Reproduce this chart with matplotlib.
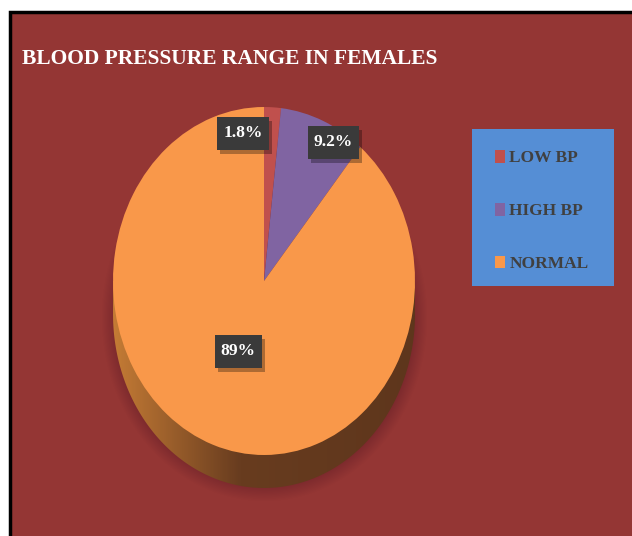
import numpy as np
import matplotlib
matplotlib.use('Agg')
import matplotlib.pyplot as plt
from matplotlib.patches import Rectangle, Polygon
from matplotlib.colors import LinearSegmentedColormap

# blood pressure groups, female respondents (%)
categories = ['LOW BP', 'HIGH BP', 'NORMAL']
shares = [1.8, 9.2, 89]
slice_colors = ['#C0504D', '#8064A2', '#F9984A']
label_pos = [(-0.14, 0.85), (0.46, 0.80), (-0.17, -0.40)]

BG = '#943634'
SERIF = ['Liberation Serif', 'DejaVu Serif']

W, H = 632, 536
fig = plt.figure(figsize=(W / 100, H / 100), dpi=100)
fig.patch.set_facecolor('white')

# full-figure canvas in pixel units
cv = fig.add_axes([0, 0, 1, 1])
cv.set_xlim(0, W)
cv.set_ylim(H, 0)
cv.axis('off')
cv.add_patch(Rectangle((10, 12), W + 20, H + 20, fc=BG, ec='black', lw=2.5, zorder=0))

cv.text(22, 59, 'BLOOD PRESSURE RANGE IN FEMALES', color='white', fontsize=15.5,
        fontweight='bold', family=SERIF, va='center', ha='left')

# pie geometry (pixels)
cx, cy, rx, ry, depth = 264, 281, 151, 174, 33

# soft shadow under the disc
yy, xx = np.mgrid[0:H, 0:W]
r = np.sqrt(((xx - cx) / (rx + 12)) ** 2 + ((yy - (cy + 36)) / (ry + 10)) ** 2)
alpha = np.clip((1.0 - r) / 0.12, 0, 1) * 0.85
alpha[yy > 503] = 0
shadow = np.zeros((H, W, 4))
shadow[..., 0] = 0.42
shadow[..., 1] = 0.13
shadow[..., 2] = 0.16
shadow[..., 3] = alpha
cv.imshow(shadow, extent=(0, W, H, 0), zorder=1, interpolation='bilinear')

# side wall of the 3d disc with a brown gradient
t = np.linspace(0, np.pi, 200)
side_pts = [(cx - rx, cy)] + [(cx - rx * np.cos(a), cy + depth + ry * np.sin(a)) for a in t] + [(cx + rx, cy)]
side = Polygon(side_pts, closed=True, fc='none', ec='none', zorder=2)
cv.add_patch(side)
grad = LinearSegmentedColormap.from_list('side', [(0, '#C47B35'), (0.42, '#683C1F'), (1, '#5E361C')])
g = np.tile(np.linspace(0, 1, 300), (10, 1))
im = cv.imshow(g, cmap=grad, extent=(cx - rx, cx + rx, cy + ry + depth, cy), aspect='auto', zorder=2)
im.set_clip_path(side)
cv.set_xlim(0, W)
cv.set_ylim(H, 0)

# top face of the pie
ax = fig.add_axes([(cx - rx) / W, (H - cy - ry) / H, 2 * rx / W, 2 * ry / H])
ax.patch.set_alpha(0)
wedges, _, pcts = ax.pie(shares, colors=slice_colors, startangle=90, counterclock=False,
                         autopct=lambda p: f'{p:.2g}%', radius=1,
                         wedgeprops=dict(linewidth=0))
ax.set_aspect('auto')
ax.set_xlim(-1, 1)
ax.set_ylim(-1, 1)
ax.axis('off')

for txt, (x, y) in zip(pcts, label_pos):
    txt.set_position((x, y))
    txt.set(color='white', fontsize=12.5, fontweight='bold', family=SERIF,
            ha='center', va='center', zorder=6)

# dark label boxes with a drop shadow, sized from the rendered text (display pixels)
fig.canvas.draw()
renderer = fig.canvas.get_renderer()
for txt in pcts:
    bb = txt.get_window_extent(renderer)
    x0, y0 = bb.x0 - 6, bb.y0 - 9
    w, h = bb.width + 12, bb.height + 17
    ax.add_patch(Rectangle((x0 + 3, y0 - 4), w, h, fc='black', ec='none', alpha=0.3,
                           transform=None, clip_on=False, zorder=4))
    ax.add_patch(Rectangle((x0, y0), w, h, fc='#3A3A3A', ec='none',
                           transform=None, clip_on=False, zorder=5))

# legend panel
cv.add_patch(Rectangle((472, 129), 142, 157, fc='#558ED5', ec='none', zorder=3))
leg = cv.legend(wedges, categories, loc='center', bbox_to_anchor=(542 / W, 1 - 211 / H),
                bbox_transform=fig.transFigure, frameon=False,
                prop=dict(family=SERIF, weight='bold', size=12.5),
                labelcolor='#404040', handlelength=0.55, handleheight=0.75,
                handletextpad=0.25, labelspacing=2.1)
leg.set_zorder(4)

fig.savefig('out.png', dpi=100, facecolor=fig.get_facecolor())
